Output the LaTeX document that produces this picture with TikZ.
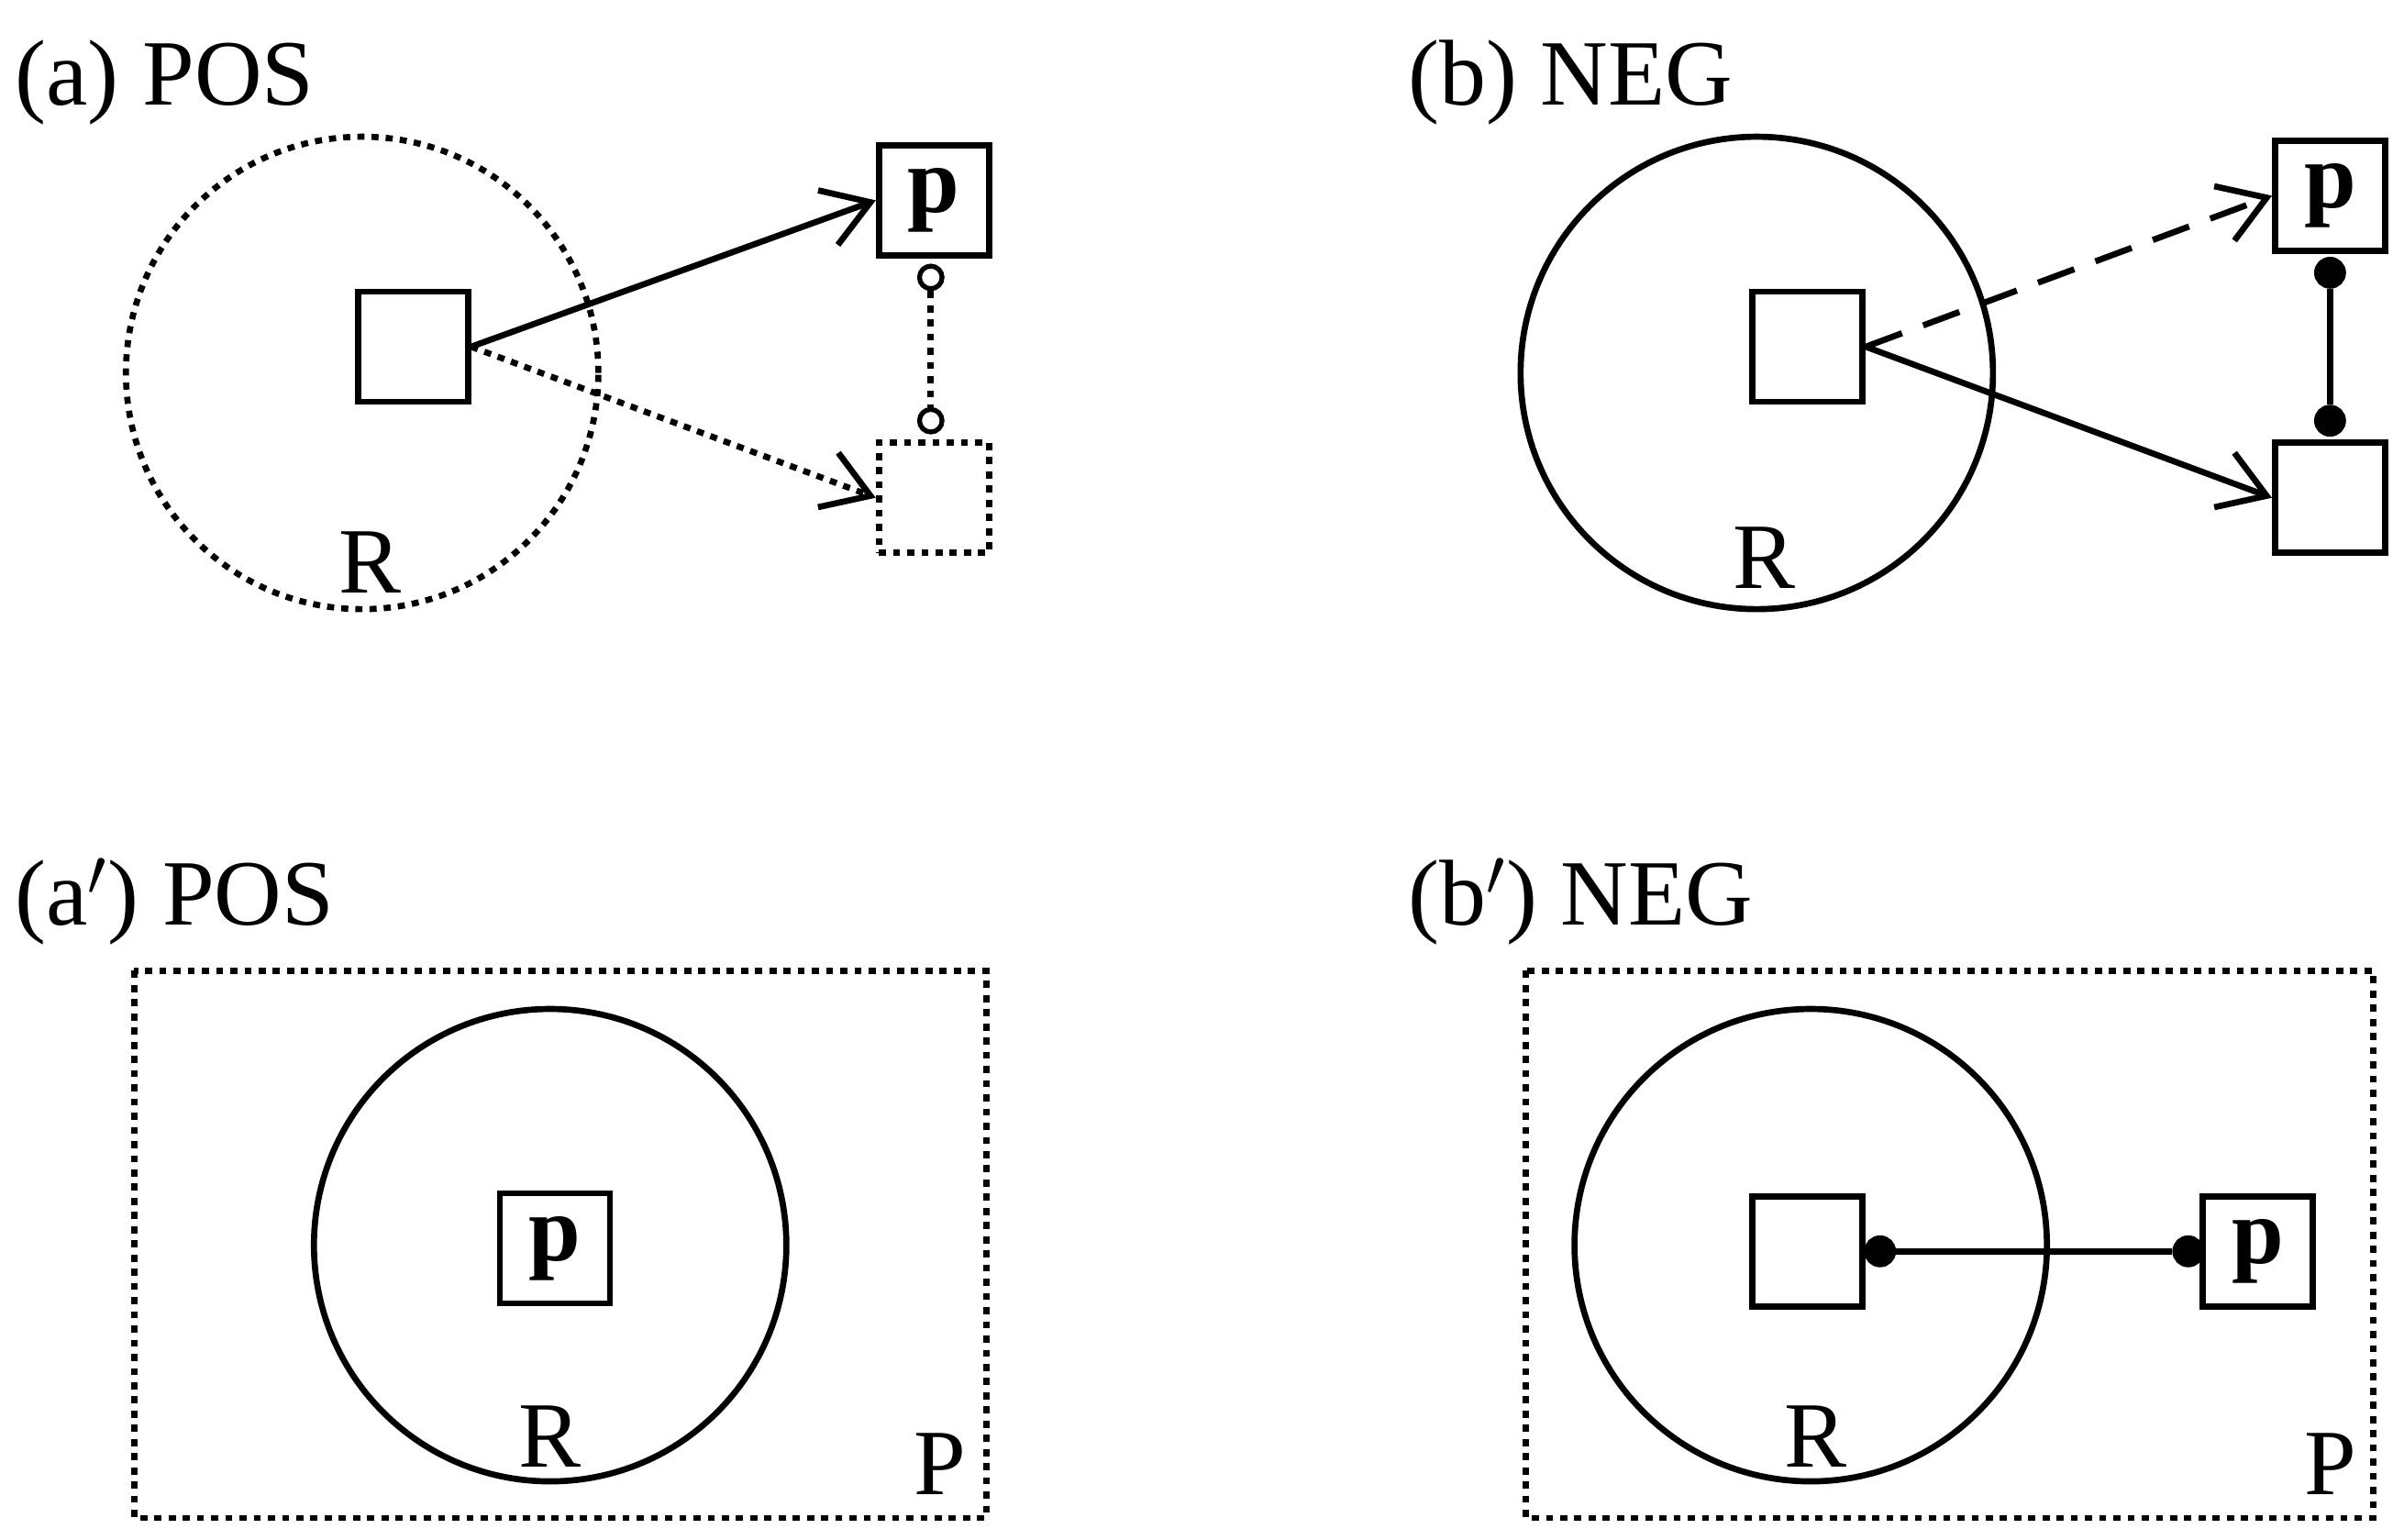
\documentclass[tikz,border=0pt]{standalone}
\usepackage{fontspec}
\setmainfont{Liberation Serif}
\usetikzlibrary{positioning,arrows.meta}
\begin{document}
\begin{tikzpicture}[
    x=0.0168cm, y=-0.0168cm,
    line width=1.9pt,
    font=\fontsize{29}{32}\selectfont,
    >={Straight Barb[length=14pt,width=18pt,line width=1.9pt]},
    % styles
    box/.style={draw, rectangle, minimum size=1.2cm, inner sep=0pt},
    pbox/.style={box, font=\fontsize{29}{32}\selectfont\bfseries},
    title/.style={anchor=base west, inner sep=0pt},
    region/.style={draw, circle, minimum size=5.15cm, inner sep=0pt},
    opendot/.style={draw, circle, fill=white, minimum size=7pt, inner sep=0pt, line width=1.5pt},
    fulldot/.style={draw, circle, fill=black, minimum size=8pt, inner sep=0pt},
    arrow/.style={->},
    dotline/.style={dash pattern=on 2.2pt off 2.2pt}
    ]
    \useasboundingbox (0,0) rectangle (1560,998.8);

    % --- (a) POS ---
    \node[title] (ta) at (8,68) {(a) POS};
    \node[region, dotline] (Ra) at (235,242) {};
    \node (la) at (240,365) {R};
    \node[box] (xa) at (268,225) {};
    \node[pbox] (pa) at (606,130) {p};
    \node[box, dotline] (qa) at (606,323) {};
    \node[opendot] (ua) at (604,180) {};
    \node[opendot] (va) at (604,273) {};
    \draw[dotline] (ua) -- (va);
    \draw[arrow] (xa.east) -- (pa.west);
    \draw[arrow, dotline] (xa.east) -- (qa.west);

    % --- (b) NEG ---
    \node[title] (tb) at (912,68) {(b) NEG};
    \node[region] (Rb) at (1140,242) {};
    \node (lb) at (1145,362) {R};
    \node[box] (xb) at (1173,225) {};
    \node[pbox] (pb) at (1512,127) {p};
    \node[box] (qb) at (1512,323) {};
    \node[fulldot] (ub) at (1512,177) {};
    \node[fulldot] (vb) at (1512,273) {};
    \draw (ub) -- (vb);
    \draw[arrow, dash pattern=on 12pt off 7pt] (xb.east) -- (pb.west);
    \draw[arrow] (xb.east) -- (qb.west);

    % --- (a') POS ---
    \node[title] (tc) at (8,600) {(a$'$) POS};
    \draw[dotline] (87,630) rectangle (640,985);
    \node[region] (Rc) at (357,808) {};
    \node[pbox] (pc) at (360,810) {p};
    \node (lc) at (357,932) {R};
    \node (Pc) at (610,950) {P};

    % --- (b') NEG ---
    \node[title] (td) at (912,600) {(b$'$) NEG};
    \draw[dotline] (990,630) rectangle (1540,985);
    \node[region] (Rd) at (1175,808) {};
    \node[box] (xd) at (1173,812) {};
    \node[pbox] (pd) at (1465,812) {p};
    \node (ld) at (1178,932) {R};
    \node (Pd) at (1512,950) {P};
    \node[fulldot] (ud) at (1220,812) {};
    \node[fulldot] (vd) at (1420,812) {};
    \draw (ud) -- (vd);
\end{tikzpicture}
\end{document}
